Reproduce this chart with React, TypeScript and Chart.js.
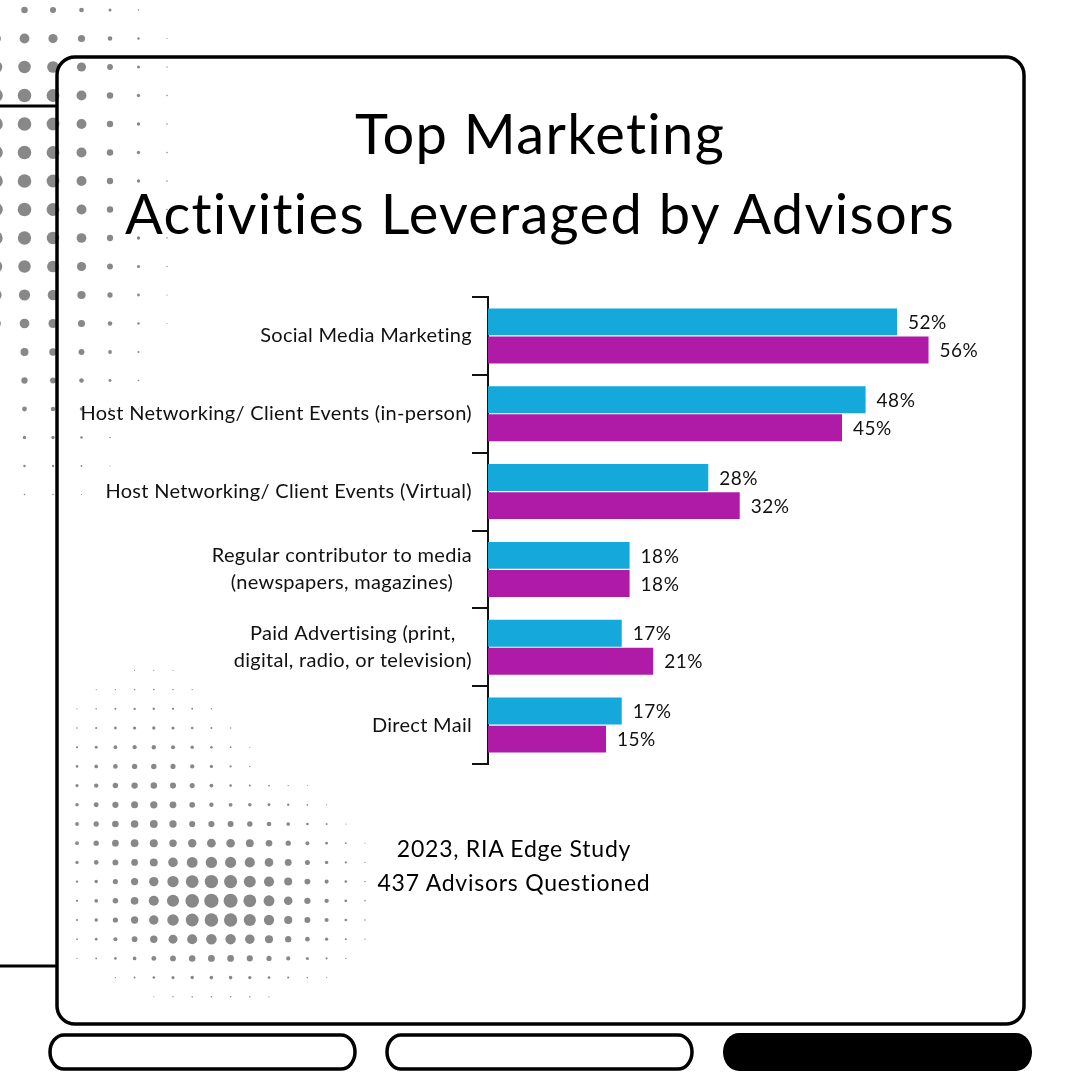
import React, { useEffect, useRef } from "react";
import { Chart, registerables } from "chart.js";

Chart.register(...registerables);

// ---------- data ----------
const categories: string[][] = [
  ["Social Media Marketing"],
  ["Host Networking/ Client Events (in-person)"],
  ["Host Networking/ Client Events (Virtual)"],
  ["Regular contributor to media", "(newspapers, magazines)"],
  ["Paid Advertising (print,", "digital, radio, or television)"],
  ["Direct Mail"],
];
const seriesBlue = [52, 48, 28, 18, 17, 17];
const seriesPurple = [56, 45, 32, 18, 21, 15];
const seriesNames = ["Series 1", "Series 2"];
const titleLines = ["Top Marketing", "Activities Leveraged by Advisors"];
const footerLines = ["2023, RIA Edge Study", "437 Advisors Questioned"];

const BLUE = "#14A8DB";
const PURPLE = "#AF1BA7";
const FONT = "Lato, 'Noto Sans', sans-serif";

// ---------- decoration (halftone dots) ----------
type Dot = { x: number; y: number; r: number };
function topLeftDots(): Dot[] {
  const out: Dot[] = [];
  for (let cx = -4; cx < 260; cx += 28.5) {
    for (let cy = 10; cy < 520; cy += 28.5) {
      const gx = Math.exp(-Math.pow(Math.max(0, cx - 30) / 92, 2));
      let gy = 1;
      if (cy < 96) gy = Math.exp(-Math.pow((96 - cy) / 100, 2));
      else if (cy > 210) gy = Math.exp(-Math.pow((cy - 210) / 195, 2));
      const r = 6.8 * gx * gy;
      if (r >= 0.5) out.push({ x: cx, y: cy, r });
    }
  }
  return out;
}
function bottomLeftDots(): Dot[] {
  const out: Dot[] = [];
  for (let cx = 77; cx < 400; cx += 19.2) {
    for (let cy = 632; cy < 1010; cy += 19.2) {
      const dx = cx - 215;
      const dy = cy - 905;
      const sy = dy > 0 ? 62 : 88;
      const a = 7.2 * Math.exp(-Math.pow(dx / 102, 2) - Math.pow(dy / sy, 2));
      const bx = cx - 150;
      const by = cy - 840;
      const bsy = by < 0 ? 120 : 60;
      const b = 4.0 * Math.exp(-Math.pow(bx / 85, 2) - Math.pow(by / bsy, 2));
      const r = Math.max(a, b);
      if (r >= 0.5) out.push({ x: cx, y: cy, r });
    }
  }
  return out;
}

const valueLabelPlugin = {
  id: "valueLabels",
  afterDatasetsDraw(chart: any) {
    const ctx = chart.ctx;
    ctx.save();
    ctx.font = `19px ${FONT}`;
    (ctx as any).letterSpacing = "0.5px";
    ctx.fillStyle = "#111";
    ctx.textAlign = "left";
    ctx.textBaseline = "middle";
    chart.data.datasets.forEach((ds: any, di: number) => {
      const meta = chart.getDatasetMeta(di);
      meta.data.forEach((bar: any, i: number) => {
        ctx.fillText(`${ds.data[i]}%`, bar.x + 11, bar.y + 1);
      });
    });
    ctx.restore();
  },
};

const categoryLabelPlugin = {
  id: "categoryLabels",
  afterDraw(chart: any) {
    const ctx = chart.ctx;
    const yScale = chart.scales.y;
    ctx.save();
    ctx.font = `20px ${FONT}`;
    (ctx as any).letterSpacing = "0.3px";
    ctx.fillStyle = "#111";
    ctx.textAlign = "center";
    ctx.textBaseline = "middle";
    const right = chart.chartArea.left - 16;
    const lh = 27;
    categories.forEach((lines, i) => {
      const cy = yScale.getPixelForValue(i);
      const w = Math.max(...lines.map((l) => ctx.measureText(l).width));
      const cx = right - w / 2;
      lines.forEach((l, j) => {
        ctx.fillText(l, cx, cy + (j - (lines.length - 1) / 2) * lh);
      });
    });
    ctx.restore();
  },
};

function BarChart() {
  const ref = useRef<HTMLCanvasElement | null>(null);
  useEffect(() => {
    if (!ref.current) return;
    const chart = new Chart(ref.current, {
      type: "bar",
      data: {
        labels: categories,
        datasets: [
          {
            label: seriesNames[0],
            data: seriesBlue,
            backgroundColor: BLUE,
            borderWidth: 0,
            categoryPercentage: 0.72,
            barPercentage: 0.96,
          },
          {
            label: seriesNames[1],
            data: seriesPurple,
            backgroundColor: PURPLE,
            borderWidth: 0,
            categoryPercentage: 0.72,
            barPercentage: 0.96,
          },
        ],
      },
      options: {
        indexAxis: "y",
        animation: false,
        responsive: false,
        maintainAspectRatio: false,
        layout: { padding: { top: 297, bottom: 316, left: 472, right: 120 } },
        plugins: {
          legend: { display: false },
          tooltip: { enabled: false },
          title: { display: false },
        },
        scales: {
          x: { display: false, min: 0, max: 60 },
          y: {
            type: "category",
            ticks: { display: false },
            grid: {
              display: true,
              offset: true,
              drawOnChartArea: false,
              drawTicks: true,
              tickLength: 16,
              color: "#111",
              lineWidth: 2,
            },
            border: { display: true, color: "#111", width: 2 },
            afterFit: (s: any) => {
              s.width = 16;
            },
          },
        },
      } as any,
      plugins: [valueLabelPlugin, categoryLabelPlugin],
    });
    return () => chart.destroy();
  }, []);
  return (
    <canvas
      ref={ref}
      width={1080}
      height={1080}
      style={{ position: "absolute", left: 0, top: 0, width: 1080, height: 1080 }}
    />
  );
}

export default function App() {
  const dotsA = topLeftDots();
  const dotsB = bottomLeftDots();
  return (
    <div
      style={{
        position: "absolute",
        left: 0,
        top: 0,
        width: 1080,
        height: 1080,
        background: "#fff",
        overflow: "hidden",
      }}
    >
      <svg
        width={1080}
        height={1080}
        style={{ position: "absolute", left: 0, top: 0 }}
      >
        {dotsA.map((d, i) => (
          <circle key={"a" + i} cx={d.x} cy={d.y} r={d.r} fill="#888" />
        ))}
        {dotsB.map((d, i) => (
          <circle key={"b" + i} cx={d.x} cy={d.y} r={d.r} fill="#888" />
        ))}
        <line x1={0} y1={106} x2={57} y2={106} stroke="#000" strokeWidth={3} />
        <line x1={0} y1={966} x2={57} y2={966} stroke="#000" strokeWidth={3} />
        <rect
          x={57}
          y={57}
          width={967}
          height={967}
          rx={18}
          ry={18}
          fill="none"
          stroke="#000"
          strokeWidth={3.5}
        />
        <rect x={50} y={1035} width={305} height={34} rx={14} ry={17} fill="none" stroke="#000" strokeWidth={3.5} />
        <rect x={387} y={1035} width={305} height={34} rx={14} ry={17} fill="none" stroke="#000" strokeWidth={3.5} />
        <rect x={723} y={1033} width={309} height={38} rx={16} ry={19} fill="#000" />
      </svg>
      <BarChart />
      <div
        style={{
          position: "absolute",
          left: 0,
          width: 1080,
          top: 93,
          textAlign: "center",
          fontFamily: FONT,
          fontSize: 56,
          letterSpacing: "1.3px",
          fontVariantLigatures: "none",
          lineHeight: "80px",
          color: "#000",
        }}
      >
        {titleLines.map((t, i) => (
          <div key={i}>{t}</div>
        ))}
      </div>
      <div
        style={{
          position: "absolute",
          left: 314,
          width: 400,
          top: 831,
          textAlign: "center",
          fontFamily: FONT,
          fontSize: 23,
          letterSpacing: "0.75px",
          fontVariantLigatures: "none",
          lineHeight: "34px",
          color: "#000",
          whiteSpace: "nowrap",
        }}
      >
        {footerLines.map((t, i) => (
          <div key={i}>{t}</div>
        ))}
      </div>
    </div>
  );
}
